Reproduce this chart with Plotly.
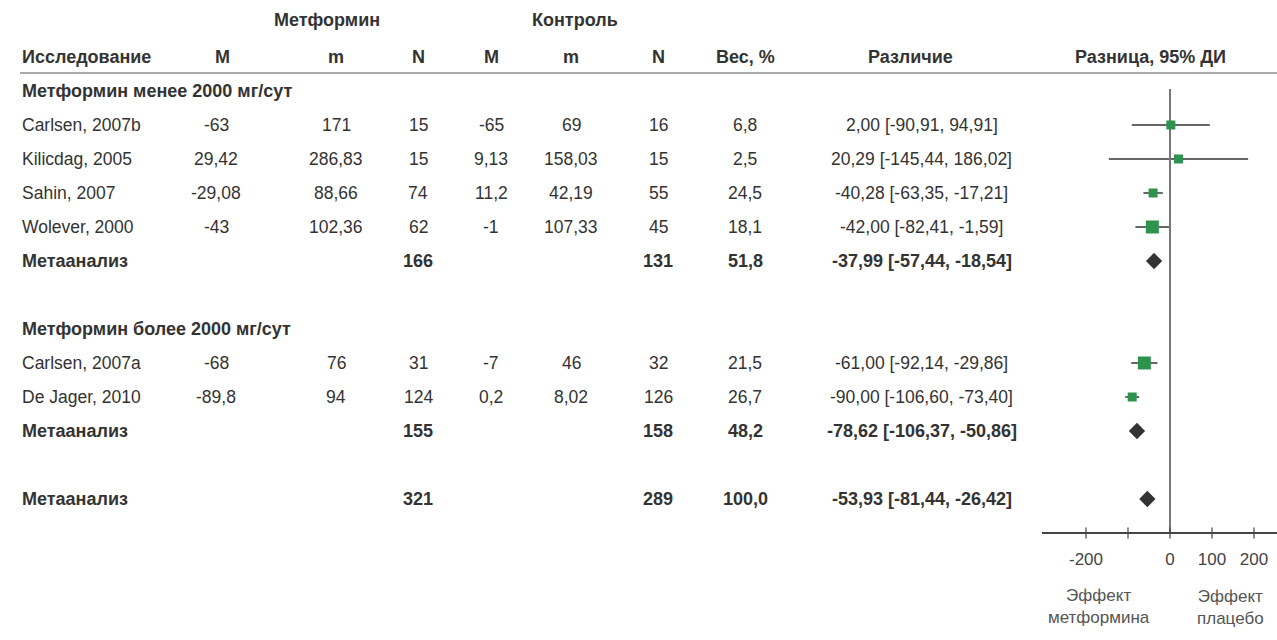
import plotly.graph_objects as go

# ---------------- data ----------------
groups = ["Метформин менее 2000 мг/сут", "Метформин более 2000 мг/сут"]
study_group = [0, 0, 0, 0, 1, 1]
studies = ["Carlsen, 2007b", "Kilicdag, 2005", "Sahin, 2007", "Wolever, 2000",
           "Carlsen, 2007a", "De Jager, 2010"]
met_M = ["-63", "29,42", "-29,08", "-43", "-68", "-89,8"]
met_m = ["171", "286,83", "88,66", "102,36", "76", "94"]
met_N = [15, 15, 74, 62, 31, 124]
ctl_M = ["-65", "9,13", "11,2", "-1", "-7", "0,2"]
ctl_m = ["69", "158,03", "42,19", "107,33", "46", "8,02"]
ctl_N = [16, 15, 55, 45, 32, 126]
weight = [6.8, 2.5, 24.5, 18.1, 21.5, 26.7]
diff = [2.00, 20.29, -40.28, -42.00, -61.00, -90.00]
ci_lo = [-90.91, -145.44, -63.35, -82.41, -92.14, -106.60]
ci_hi = [94.91, 186.02, -17.21, -1.59, -29.86, -73.40]

# subgroup meta-analyses (index = group), then overall
meta_label = "Метаанализ"
meta_met_N = [166, 155]
meta_ctl_N = [131, 158]
meta_weight = [51.8, 48.2]
meta_diff = [-37.99, -78.62]
meta_lo = [-57.44, -106.37]
meta_hi = [-18.54, -50.86]
all_met_N = 321
all_ctl_N = 289
all_weight = 100.0
all_diff = -53.93
all_lo = -81.44
all_hi = -26.42

tick_vals = [-200, -100, 0, 100, 200]
tick_text = ["-200", "", "0", "100", "200"]
col_headers = ["M", "m", "N", "M", "m", "N", "Вес, %", "Различие"]
arm_headers = ["Метформин", "Контроль"]
left_effect = "Эффект<br>метформина"
right_effect = "Эффект<br>плацебо"

# ---------------- layout constants ----------------
W, H = 1277, 640
ROW0_PX, ROW_H = 91, 34
FONT = "Liberation Sans, Arial, Helvetica, sans-serif"
TXT = "#333333"
GREEN = "#2f9350"
DARK = "#333333"
NAME_X = 20
COL_X = [216, 336, 418, 491, 571, 658, 745, 922]
HDR_X = [222, 336, 418, 491, 571, 658, 745, 910]
FOREST_HDR_X = 1150
ARM_X = [327, 575]
AX_LEFT_PX, ZERO_PX, PX_PER_UNIT = 1042, 1170, 0.42
SQ_SIZE = [9, 9, 9, 13, 13, 9]
FS_REG, FS_BOLD = 17.5, 18


def fmt(v, d):
    return f"{v:.{d}f}".replace(".", ",")


def ci_text(d, lo, hi):
    return f"{fmt(d, 2)} [{fmt(lo, 2)}, {fmt(hi, 2)}]"


def xp(px):
    return px / W


# ---------------- row assignment ----------------
rows_group_hdr = []
rows_study = [None] * len(studies)
rows_meta = []
r = 0
for g in range(len(groups)):
    rows_group_hdr.append(r)
    r += 1
    for i, sg in enumerate(study_group):
        if sg == g:
            rows_study[i] = r
            r += 1
    rows_meta.append(r)
    r += 2
row_all = rows_meta[-1] + 2
row_axis = row_all + 1

ann = []


def add_text(x_px, row, text, bold=False, align="center", size=None, color=TXT):
    t = f"<b>{text}</b>" if bold else text
    if size is None:
        size = FS_BOLD if bold else FS_REG
    ann.append(dict(x=xp(x_px), xref="paper", y=row, yref="y", text=t,
                    showarrow=False, xanchor=align, yanchor="middle",
                    font=dict(family=FONT, size=size, color=color)))


# headers
for x, t in zip(ARM_X, arm_headers):
    add_text(x, -2.09, t, bold=True)
add_text(NAME_X, -1, "Исследование", bold=True, align="left")
for x, t in zip(HDR_X, col_headers):
    add_text(x, -1, t, bold=True)
add_text(FOREST_HDR_X, -1, "Разница, 95% ДИ", bold=True)

# study rows
for i, name in enumerate(studies):
    rr = rows_study[i]
    add_text(NAME_X, rr, name, align="left")
    vals = [met_M[i], met_m[i], str(met_N[i]), ctl_M[i], ctl_m[i], str(ctl_N[i]),
            fmt(weight[i], 1), ci_text(diff[i], ci_lo[i], ci_hi[i])]
    for x, v in zip(COL_X, vals):
        add_text(x, rr, v)

# group headers and subgroup meta rows
for g, gname in enumerate(groups):
    add_text(NAME_X, rows_group_hdr[g], gname, bold=True, align="left")
    rr = rows_meta[g]
    add_text(NAME_X, rr, meta_label, bold=True, align="left")
    add_text(COL_X[2], rr, str(meta_met_N[g]), bold=True)
    add_text(COL_X[5], rr, str(meta_ctl_N[g]), bold=True)
    add_text(COL_X[6], rr, fmt(meta_weight[g], 1), bold=True)
    add_text(COL_X[7], rr, ci_text(meta_diff[g], meta_lo[g], meta_hi[g]), bold=True)

# overall row
add_text(NAME_X, row_all, meta_label, bold=True, align="left")
add_text(COL_X[2], row_all, str(all_met_N), bold=True)
add_text(COL_X[5], row_all, str(all_ctl_N), bold=True)
add_text(COL_X[6], row_all, fmt(all_weight, 1), bold=True)
add_text(COL_X[7], row_all, ci_text(all_diff, all_lo, all_hi), bold=True)

# effect labels
add_text(1099, row_axis + 2.15, left_effect, size=17, color="#555555")
add_text(1230, row_axis + 2.2, right_effect, size=17, color="#555555")

fig = go.Figure()

# CI lines
for i in range(len(studies)):
    fig.add_trace(go.Scatter(x=[ci_lo[i], ci_hi[i]], y=[rows_study[i]] * 2,
                             mode="lines", line=dict(color=DARK, width=1.5),
                             hoverinfo="skip", showlegend=False))
# zero line
fig.add_trace(go.Scatter(x=[0, 0], y=[-0.06, row_axis], mode="lines",
                         line=dict(color="#777777", width=2),
                         hoverinfo="skip", showlegend=False))
# study squares
fig.add_trace(go.Scatter(x=diff, y=rows_study, mode="markers",
                         marker=dict(symbol="square", size=SQ_SIZE, color=GREEN,
                                     opacity=1, line=dict(width=0)),
                         showlegend=False))
# diamonds
fig.add_trace(go.Scatter(x=meta_diff + [all_diff], y=rows_meta + [row_all],
                         mode="markers",
                         marker=dict(symbol="diamond", size=12.5, color=DARK,
                                     opacity=1, line=dict(width=0)),
                         showlegend=False))
# crossing tick marks on the axis
fig.add_trace(go.Scatter(x=tick_vals, y=[row_axis] * len(tick_vals), mode="markers",
                         marker=dict(symbol="line-ns", size=8,
                                     line=dict(color="#444444", width=1.2)),
                         hoverinfo="skip", showlegend=False))

x_lo = (AX_LEFT_PX - ZERO_PX) / PX_PER_UNIT
x_hi = (W - ZERO_PX) / PX_PER_UNIT
y_top = -ROW0_PX / ROW_H
y_bot = (H - ROW0_PX) / ROW_H
axis_pos = 1 - (ROW0_PX + row_axis * ROW_H) / H

fig.update_layout(
    width=W, height=H,
    margin=dict(l=0, r=0, t=0, b=0),
    paper_bgcolor="white", plot_bgcolor="rgba(0,0,0,0)",
    annotations=ann,
    shapes=[dict(type="line", xref="paper", yref="y", x0=xp(NAME_X), x1=1,
                 y0=-0.53, y1=-0.53, line=dict(color="#aaaaaa", width=2))],
    xaxis=dict(domain=[xp(AX_LEFT_PX), 1], range=[x_lo, x_hi],
               anchor="free", position=axis_pos,
               showline=True, linecolor="#444444", linewidth=1.5,
               showgrid=False, zeroline=False, ticks="",
               tickvals=tick_vals, ticktext=tick_text,
               ticklabelstandoff=11,
               tickfont=dict(family=FONT, size=17, color="#444444"),
               fixedrange=True),
    yaxis=dict(domain=[0, 1], range=[y_bot, y_top], visible=False,
               fixedrange=True),
    showlegend=False,
)

fig.write_html("out.html", config={"displayModeBar": False})
